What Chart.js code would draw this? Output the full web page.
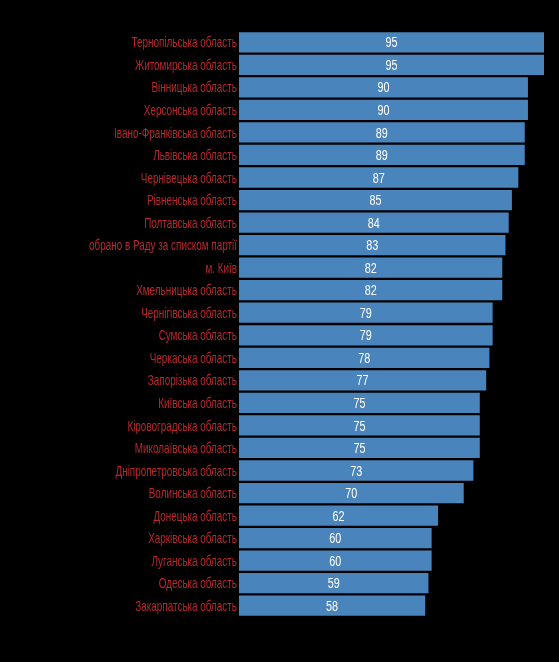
<!DOCTYPE html>
<html><head><meta charset="utf-8">
<script src="https://cdn.jsdelivr.net/npm/chart.js@4"></script>
<style>html,body{margin:0;background:#000}#w{width:559px;height:662px}</style>
</head><body><div id="w"><canvas id="c"></canvas></div>
<script>
const categories=["Тернопільська область","Житомирська область","Вінницька область","Херсонська область","Івано-Франківська область","Львівська область","Чернівецька область","Рівненська область","Полтавська область","обрано в Раду за списком партії","м. Київ","Хмельницька область","Чернігівська область","Сумська область","Черкаська область","Запорізька область","Київська область","Кіровоградська область","Миколаївська область","Дніпропетровська область","Волинська область","Донецька область","Харківська область","Луганська область","Одеська область","Закарпатська область"];
const values=[95,95,90,90,89,89,87,85,84,83,82,82,79,79,78,77,75,75,75,73,70,62,60,60,59,58];
const FONT='"Liberation Sans",sans-serif';
const labelPlugin={id:'lbl',afterDatasetsDraw(ch){const ctx=ch.ctx;const m=ch.getDatasetMeta(0);const sx=0.72;
ctx.save();ctx.textBaseline='middle';
m.data.forEach((b,i)=>{
ctx.save();ctx.font='15px '+FONT;ctx.fillStyle='#fff';ctx.textAlign='center';ctx.translate((b.x+b.base)/2,b.y+1);ctx.scale(sx,1);ctx.fillText(values[i],0,0);ctx.restore();
ctx.save();ctx.font='15px '+FONT;ctx.fillStyle='#b8282c';ctx.textAlign='right';ctx.translate(b.base-2,b.y+1);ctx.scale(0.66,1);ctx.fillText(categories[i],0,0);ctx.restore();
});ctx.restore();}};
new Chart(document.getElementById('c'),{type:'bar',data:{labels:categories,datasets:[{data:values,backgroundColor:'#4a84bd',borderWidth:0,categoryPercentage:1,barPercentage:0.9}]},
options:{indexAxis:'y',responsive:true,maintainAspectRatio:false,animation:false,
layout:{padding:{top:31,bottom:45,right:15,left:0}},
plugins:{legend:{display:false},tooltip:{enabled:false}},
scales:{x:{min:0,max:95,display:false},
y:{grid:{display:false},border:{display:false},afterFit(s){s.width=239;},ticks:{display:false}}}},
plugins:[labelPlugin]});
</script></body></html>
